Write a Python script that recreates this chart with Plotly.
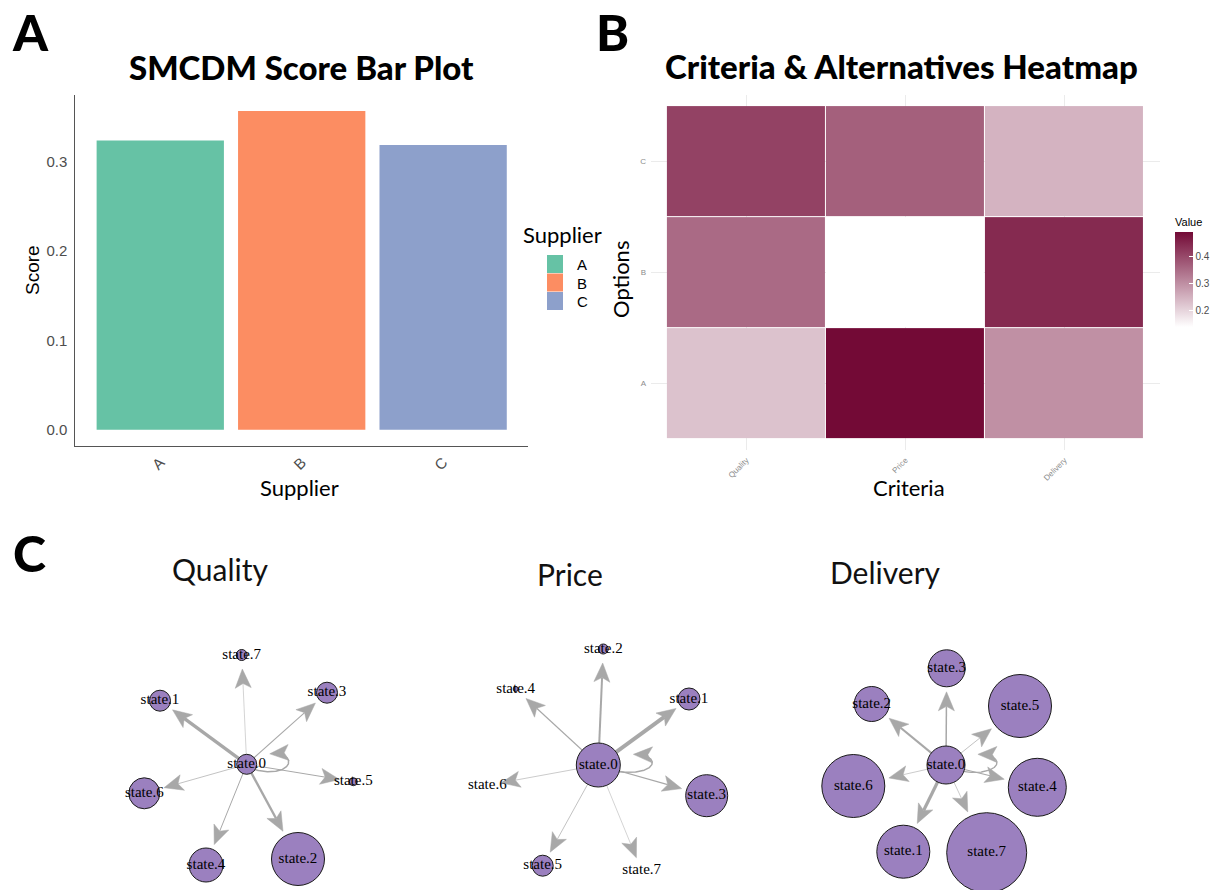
import numpy as np
import plotly.graph_objects as go

FIG_W, FIG_H = 1220, 890

# ---------------- data ----------------
suppliers = ["A", "B", "C"]
smcdm_scores = [0.324, 0.357, 0.319]
supplier_colors = ["#66c2a5", "#fc8d62", "#8da0cb"]

criteria = ["Quality", "Price", "Delivery"]
options = ["A", "B", "C"]
weights_quality = [0.228, 0.353, 0.409]    # options A, B, C
weights_price = [0.489, 0.141, 0.367]
weights_delivery = [0.298, 0.444, 0.249]

state_labels = ["state.0", "state.1", "state.2", "state.3",
                "state.4", "state.5", "state.6", "state.7"]
network_titles = ["Quality", "Price", "Delivery"]

# network layouts (state.0 at centre; x right, y up), vertex sizes,
# edge widths (index 0 = self loop on state.0, k = state.0 -> state.k)
quality_node_x = [0, -86.7, 51.3, 80.3, -40.7, 106.6, -102.4, -5.0]
quality_node_y = [0, 63.6, -94.7, 71.6, -100.7, -17.4, -29.0, 109.3]
quality_node_size = [20, 21, 53, 21, 34, 8, 31, 11]
quality_edge_width = [1.5, 3.4, 2.4, 1.1, 1.0, 1.0, 0.7, 0.5]

price_node_x = [0, 90.7, 5.0, 108.4, -82.6, -55.6, -111.0, 43.4]
price_node_y = [0, 66.0, 116.0, -30.7, 76.0, -100.7, -20.3, -105.7]
price_node_size = [44, 22, 10, 42, 5, 21, 0, 0]
price_edge_width = [1.5, 4.0, 2.0, 1.2, 1.2, 0.7, 0.6, 0.5]

delivery_node_x = [0, -42.7, -74.3, 0.7, 91.3, 74.0, -92.7, 40.7]
delivery_node_y = [0, -86.7, 61.0, 96.7, -22.3, 59.0, -21.0, -87.7]
delivery_node_size = [38, 53, 35, 37, 58, 63, 63, 80]
delivery_edge_width = [1.3, 3.2, 2.2, 1.5, 1.2, 0.7, 0.6, 0.6]

# ---------------- helpers ----------------
def pxx(x):
    return x / FIG_W


def pxy(y):
    return 1 - y / FIG_H


EDGE_COLOR = "#a8a8a8"
NODE_COLOR = "#9b80bf"
HEAD_LEN, HEAD_HALF, HEAD_NOTCH = 19.0, 8.0, 4.5

fig = go.Figure()

# ---------------- Panel A: bar chart ----------------
fig.add_trace(go.Bar(x=suppliers, y=smcdm_scores, marker=dict(color=supplier_colors, line=dict(width=0)),
                     width=0.9, xaxis="x", yaxis="y", showlegend=False, hoverinfo="skip"))

ymax = max(smcdm_scores)

# ---------------- Panel B: heatmap ----------------
z = [[weights_quality[i], weights_price[i], weights_delivery[i]] for i in range(len(options))]
fig.add_trace(go.Heatmap(
    z=z, x=criteria, y=options, xaxis="x2", yaxis="y2",
    colorscale=[[0, "#ffffff"], [1, "#730a36"]], xgap=1, ygap=1,
    hoverinfo="skip",
    colorbar=dict(x=pxx(1175), xanchor="left", y=pxy(327), yanchor="bottom",
                  len=112, lenmode="pixels", thickness=18, thicknessmode="pixels",
                  outlinewidth=0, tickvals=[0.2, 0.3, 0.4], ticks="inside", tickcolor="white",
                  ticklen=4, xpad=0, ypad=0,
                  tickfont=dict(size=10, color="#4d4d4d", family="Liberation Sans"),
                  title=dict(text="Value", side="top",
                             font=dict(size=11, color="black", family="Liberation Sans"))),
))


# ---------------- Panel C: networks ----------------
def bezier(P, t):
    P = np.array(P, float)
    return (((1 - t) ** 3)[:, None] * P[0] + (3 * (1 - t) ** 2 * t)[:, None] * P[1]
            + (3 * (1 - t) * t ** 2)[:, None] * P[2] + (t ** 3)[:, None] * P[3])


def head_polygon(tip, u):
    n = np.array([-u[1], u[0]])
    base = tip - u * HEAD_LEN
    notch = base + u * HEAD_NOTCH
    return [tip, base + n * HEAD_HALF, notch, base - n * HEAD_HALF, tip], notch


def add_network(xs, ys, sizes, widths, xa, ya):
    xs = np.array(xs, float)
    ys = np.array(ys, float)
    r = np.array(sizes, float) / 2
    hx, hy = [], []
    c = np.array([xs[0], ys[0]])
    for k in range(1, len(xs)):
        p = np.array([xs[k], ys[k]])
        v = p - c
        u = v / np.hypot(*v)
        tip = p - u * max(r[k] + 5, 14)
        poly, notch = head_polygon(tip, u)
        fig.add_trace(go.Scatter(x=[c[0], notch[0]], y=[c[1], notch[1]], mode="lines",
                                 line=dict(color=EDGE_COLOR, width=widths[k]),
                                 xaxis=xa, yaxis=ya, hoverinfo="skip", showlegend=False,
                                 cliponaxis=False))
        hx += [q[0] for q in poly] + [None]
        hy += [q[1] for q in poly] + [None]
    # self loop
    r0 = r[0]
    X = (r0 + 32) / 0.75
    t = np.linspace(0, 1, 300)
    B = bezier([(0, -3), (X, -22), (X, 28), (0, 4)], t) + c
    target = r0 + 13
    cand = np.where(t > 0.5)[0]
    idx = cand[np.argmin(np.abs(B[cand, 0] - c[0] - target))]
    tip = B[idx]
    d = B[idx] - B[idx - 6]
    u = d / np.hypot(*d)
    poly, notch = head_polygon(tip, u)
    fig.add_trace(go.Scatter(x=B[:idx - 8, 0], y=B[:idx - 8, 1], mode="lines",
                             line=dict(color=EDGE_COLOR, width=widths[0]),
                             xaxis=xa, yaxis=ya, hoverinfo="skip", showlegend=False, cliponaxis=False))
    hx += [q[0] for q in poly] + [None]
    hy += [q[1] for q in poly] + [None]
    fig.add_trace(go.Scatter(x=hx, y=hy, mode="lines", fill="toself", fillcolor=EDGE_COLOR,
                             line=dict(color=EDGE_COLOR, width=0.5),
                             xaxis=xa, yaxis=ya, hoverinfo="skip", showlegend=False, cliponaxis=False))
    fig.add_trace(go.Scatter(x=xs, y=ys, mode="markers",
                             marker=dict(size=list(sizes), color=NODE_COLOR, opacity=1,
                                         line=dict(color="#1a1a1a", width=[1 if s > 0 else 0 for s in sizes])),
                             xaxis=xa, yaxis=ya, hoverinfo="skip", showlegend=False, cliponaxis=False))
    fig.add_trace(go.Scatter(x=xs, y=ys, mode="text", text=state_labels, textposition="middle center",
                             textfont=dict(family="Liberation Serif", size=15, color="black"),
                             xaxis=xa, yaxis=ya, hoverinfo="skip", showlegend=False, cliponaxis=False))


networks = [
    (quality_node_x, quality_node_y, quality_node_size, quality_edge_width, (246.7, 764.3)),
    (price_node_x, price_node_y, price_node_size, price_edge_width, (598.3, 765.0)),
    (delivery_node_x, delivery_node_y, delivery_node_size, delivery_edge_width, (946.0, 765.0)),
]

layout_axes = {}
for i, (nx, ny, ns, nw, (cx, cy)) in enumerate(networks):
    k = i + 3
    add_network(nx, ny, ns, nw, f"x{k}", f"y{k}")
    layout_axes[f"xaxis{k}"] = dict(domain=[pxx(cx - 170), pxx(cx + 170)], range=[-170, 170],
                                    visible=False, anchor=f"y{k}", fixedrange=True)
    layout_axes[f"yaxis{k}"] = dict(domain=[pxy(890), pxy(620)], range=[-(890 - cy), cy - 620],
                                    visible=False, anchor=f"x{k}", fixedrange=True)

# ---------------- layout ----------------
tick_font_a = dict(family="Liberation Sans", size=15, color="#4d4d4d")
fig.update_layout(
    width=FIG_W, height=FIG_H, margin=dict(l=0, r=0, t=0, b=0),
    paper_bgcolor="white", plot_bgcolor="white", showlegend=False,
    xaxis=dict(domain=[pxx(75.4), pxx(528)], range=[-0.6, 2.6], anchor="y",
               showline=True, linecolor="#555555", linewidth=1.3, showgrid=False, zeroline=False,
               ticks="", tickangle=-45, tickfont=tick_font_a, ticklabelstandoff=1),
    yaxis=dict(domain=[pxy(445.7), pxy(95)], range=[-0.05 * ymax, 1.05 * ymax], anchor="x",
               showline=True, linecolor="#555555", linewidth=1.3, showgrid=False, zeroline=False,
               ticks="", tickvals=[0, 0.1, 0.2, 0.3], tickformat=".1f", tickfont=tick_font_a,
               ticklabelstandoff=4),
    xaxis2=dict(domain=[pxx(651), pxx(1160)], range=[-0.6, 2.6], anchor="y2", type="category",
                showgrid=True, gridcolor="#ebebeb", gridwidth=1, zeroline=False, showline=False,
                ticks="", tickangle=-45,
                tickfont=dict(family="Liberation Sans", size=8, color="#8c8c8c"), ticklabelstandoff=3),
    yaxis2=dict(domain=[pxy(450), pxy(95)], range=[-0.6, 2.6], anchor="x2", type="category",
                showgrid=True, gridcolor="#ebebeb", gridwidth=1, zeroline=False, showline=False,
                ticks="", tickfont=dict(family="Liberation Sans", size=8, color="#8c8c8c"),
                ticklabelstandoff=4),
    **layout_axes,
)

ann = []


def text(x, y, s, size, family="Lato", weight="normal", color="black", angle=0, xanchor="center",
         yanchor="middle"):
    ann.append(dict(x=pxx(x), y=pxy(y), xref="paper", yref="paper", text=s,
                    showarrow=False, textangle=angle, xanchor=xanchor, yanchor=yanchor,
                    font=dict(family=family, size=size, color=color, weight=weight)))


# panel letters
text(30, 32, "A", 50, weight=900)
text(612, 32, "B", 50, weight=900)
text(29, 553, "C", 50, weight=900)
# panel titles
text(301, 67, "SMCDM Score Bar Plot", 33, weight=900)
text(901, 66, "Criteria &amp; Alternatives Heatmap", 33, weight=900)
# axis titles
text(32, 270, "Score", 19, family="Liberation Sans", angle=-90)
text(299, 487, "Supplier", 22)
text(909, 487, "Criteria", 22)
text(620, 280, "Options", 22, angle=-90)
# legend (panel A)
text(521, 235, "Supplier", 22, xanchor="left")
legend_top = 255
for i, (s, col) in enumerate(zip(suppliers, supplier_colors)):
    y0 = legend_top + i * 18.5
    fig.add_shape(type="rect", xref="paper", yref="paper", x0=pxx(547), x1=pxx(563),
                  y0=pxy(y0 + 18), y1=pxy(y0), fillcolor=col, line=dict(width=0))
    text(575, y0 + 9.5, s, 15, family="Liberation Sans", xanchor="left")
# network titles
for title, (tx, ty) in zip(network_titles, [(220, 569), (570, 574), (885, 572)]):
    text(tx, ty, title, 30, color="#111111")

fig.update_layout(annotations=ann)
fig.write_html("out.html", config={"displayModeBar": False},
               post_script="document.body.style.margin='0';document.body.style.overflow='hidden';")
